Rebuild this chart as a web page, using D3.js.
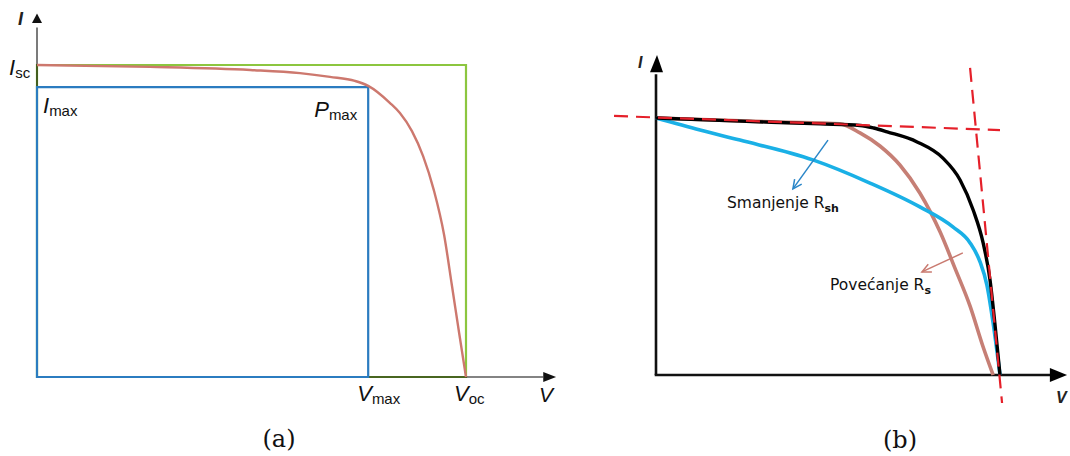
<!DOCTYPE html>
<html><head><meta charset="utf-8">
<script src="https://cdn.jsdelivr.net/npm/d3@7/dist/d3.min.js"></script>
<style>body{margin:0;background:#fff;} svg{display:block;}</style>
</head><body>
<svg id="chart" width="1070" height="456"></svg>
<script>
// ---------- Panel (a) data (normalized V/Voc, I/Isc) ----------
const aVoltage = [0, 0.263, 0.497, 0.613, 0.683, 0.741, 0.772, 0.823, 0.846, 0.874, 0.900, 0.925, 0.949, 0.967, 0.984, 1];
const aCurrent = [1, 0.994, 0.984, 0.974, 0.962, 0.949, 0.933, 0.878, 0.846, 0.788, 0.708, 0.599, 0.455, 0.295, 0.141, 0];
const aVmax = 0.772, aImax = 0.929, aVoc = 1, aIsc = 1;
const aXLabels = [{main: "V", sub: "max", value: aVmax}, {main: "V", sub: "oc", value: aVoc}];
const aYLabels = [{main: "I", sub: "sc", value: aIsc}];
const aCaption = "(a)";

// ---------- Panel (b) data ----------
const bBlackV = [0, 0.244, 0.477, 0.593, 0.633, 0.672, 0.759, 0.834, 0.884, 0.922, 0.951, 0.971, 0.985, 1];
const bBlackI = [1, 0.988, 0.977, 0.971, 0.961, 0.946, 0.907, 0.844, 0.759, 0.642, 0.514, 0.370, 0.202, 0];
const bBlueV  = [0, 0.128, 0.244, 0.456, 0.622, 0.767, 0.863, 0.913, 0.942, 0.962, 0.980, 1];
const bBlueI  = [1, 0.953, 0.914, 0.837, 0.747, 0.654, 0.576, 0.514, 0.440, 0.350, 0.202, 0];
const bBrownV = [0, 0.360, 0.535, 0.593, 0.651, 0.709, 0.767, 0.826, 0.869, 0.913, 0.951, 0.980];
const bBrownI = [1, 0.984, 0.977, 0.942, 0.891, 0.817, 0.708, 0.556, 0.416, 0.268, 0.109, 0];
const bTangentH = [[-0.122, 1.008], [1.0, 0.953]];
const bTangentV = [[0.913, 1.195], [1.006, -0.109]];
const bArrowSh = [[0.500, 0.914], [0.398, 0.724]];
const bArrowS  = [[0.892, 0.475], [0.773, 0.401]];
const bLabels = [{main: "Smanjenje R", sub: "sh"}, {main: "Povećanje R", sub: "s"}];
const bCaption = "(b)";

const svg = d3.select("#chart");
svg.append("rect").attr("width", 1070).attr("height", 456).attr("fill", "#fff");

// ================= Panel (a) =================
const ax = d3.scaleLinear().domain([0, 1]).range([37, 466]);
const ay = d3.scaleLinear().domain([0, 1]).range([377, 65]);
const ga = svg.append("g");

ga.append("path")
  .attr("d", `M${ax(0)},${ay(aIsc)}H${ax(aVoc)}V${ay(0)}H${ax(0)}Z`)
  .attr("fill", "none").attr("stroke", "#8cc63f").attr("stroke-width", 2.2);

ga.append("line").attr("x1", ax(0)).attr("y1", ay(0)).attr("x2", ax(0)).attr("y2", ay(1.12))
  .attr("stroke", "#000").attr("stroke-opacity", 0.65).attr("stroke-width", 1.6);
ga.append("line").attr("x1", ax(0)).attr("y1", ay(0)).attr("x2", ax(1.18)).attr("y2", ay(0))
  .attr("stroke", "#000").attr("stroke-opacity", 0.65).attr("stroke-width", 1.6);
ga.append("path")
  .attr("d", `M${ax(0)},${ay(1.165)}L${ax(0)-5},${ay(1.135)}L${ax(0)+5},${ay(1.135)}Z`)
  .attr("fill", "#111");
ga.append("path")
  .attr("d", `M${ax(1.21)},${ay(0)}L${ax(1.18)},${ay(0)-5}L${ax(1.18)},${ay(0)+5}Z`)
  .attr("fill", "#111");

ga.append("path")
  .attr("d", `M${ax(0)},${ay(0)}V${ay(aImax)}H${ax(aVmax)}V${ay(0)}Z`)
  .attr("fill", "none").attr("stroke", "#2b7cc0").attr("stroke-width", 2.2);

const aLine = d3.line().x(d => ax(d[0])).y(d => ay(d[1])).curve(d3.curveMonotoneX);
ga.append("path").datum(d3.zip(aVoltage, aCurrent)).attr("d", aLine)
  .attr("fill", "none").attr("stroke", "#cd786e").attr("stroke-width", 2.4);

function subLabel(g, x, y, main, sub, size, subSize, italicMain, fam, weight) {
  const t = g.append("text").attr("x", x).attr("y", y)
    .attr("font-family", fam).attr("font-size", size).attr("fill", "#111")
    .attr("font-weight", weight || "normal");
  t.append("tspan").attr("font-style", italicMain ? "italic" : "normal").text(main);
  t.append("tspan").attr("font-size", subSize).attr("dy", size * 0.12).text(sub);
  return t;
}
const sansA = "Liberation Sans, Arial, sans-serif";
aYLabels.forEach(d => subLabel(ga, 9, ay(d.value) + 10, d.main, d.sub, 22, 15, true, sansA));
subLabel(ga, 43, ay(aImax) + 26, "I", "max", 22, 15, true, sansA);
subLabel(ga, ax(aVmax) - 54, ay(aImax) + 30, "P", "max", 22, 15, true, sansA);
aXLabels.forEach(d => subLabel(ga, ax(d.value) - (d.sub === "max" ? 11 : 12), ay(0) + 24, d.main, d.sub, 22, 15, true, sansA));
ga.append("text").attr("x", ax(1.17)).attr("y", ay(0) + 25).attr("font-family", sansA)
  .attr("font-style", "italic").attr("font-size", 21).attr("fill", "#111").text("V");
ga.append("text").attr("x", 18).attr("y", 25).attr("font-family", sansA)
  .attr("font-style", "italic").attr("font-weight", "bold").attr("font-size", 18).attr("fill", "#222").text("I");
ga.append("text").attr("x", 279).attr("y", 447).attr("text-anchor", "middle")
  .attr("font-family", "DejaVu Serif, serif").attr("font-size", 24).attr("fill", "#111").text(aCaption);

// ================= Panel (b) =================
const bx = d3.scaleLinear().domain([0, 1]).range([656, 1000]);
const by = d3.scaleLinear().domain([0, 1]).range([375, 118]);
const gb = svg.append("g");

gb.append("line").attr("x1", bx(0)).attr("y1", by(0)).attr("x2", bx(0)).attr("y2", by(1.17))
  .attr("stroke", "#111").attr("stroke-width", 2.6);
gb.append("line").attr("x1", bx(0) - 1.3).attr("y1", by(0)).attr("x2", bx(1.15)).attr("y2", by(0))
  .attr("stroke", "#111").attr("stroke-width", 2.6);
gb.append("path")
  .attr("d", `M${bx(0)+1},${by(1.245)}L${bx(0)-6},${by(1.178)}L${bx(0)+7},${by(1.178)}Z`)
  .attr("fill", "#000");
gb.append("path")
  .attr("d", `M${bx(1.195)},${by(0)}L${bx(1.145)},${by(0)-7}L${bx(1.145)},${by(0)+7}Z`)
  .attr("fill", "#000");

const bLine = d3.line().x(d => bx(d[0])).y(d => by(d[1])).curve(d3.curveMonotoneX);
gb.append("path").datum(d3.zip(bBrownV, bBrownI)).attr("d", bLine)
  .attr("fill", "none").attr("stroke", "#c67f75").attr("stroke-width", 3.6);
gb.append("path").datum(d3.zip(bBlueV, bBlueI)).attr("d", bLine)
  .attr("fill", "none").attr("stroke", "#1ab0e6").attr("stroke-width", 3.6);
gb.append("path").datum(d3.zip(bBlackV, bBlackI)).attr("d", bLine)
  .attr("fill", "none").attr("stroke", "#000").attr("stroke-width", 3.4);

[bTangentH, bTangentV].forEach(seg => {
  gb.append("path").datum(seg).attr("d", d3.line().x(d => bx(d[0])).y(d => by(d[1])))
    .attr("fill", "none").attr("stroke", "#e5202a").attr("stroke-width", 2.2)
    .attr("stroke-dasharray", "14,8");
});

function arrow(g, seg, color) {
  const [x1, y1] = [bx(seg[0][0]), by(seg[0][1])];
  const [x2, y2] = [bx(seg[1][0]), by(seg[1][1])];
  const ang = Math.atan2(y2 - y1, x2 - x1);
  const L = 10, spread = 0.45;
  g.append("line").attr("x1", x1).attr("y1", y1).attr("x2", x2).attr("y2", y2)
    .attr("stroke", color).attr("stroke-width", 1.5);
  const p1 = [x2 - L * Math.cos(ang - spread), y2 - L * Math.sin(ang - spread)];
  const p2 = [x2 - L * Math.cos(ang + spread), y2 - L * Math.sin(ang + spread)];
  g.append("path").attr("d", `M${p1}L${x2},${y2}L${p2}`)
    .attr("fill", "none").attr("stroke", color).attr("stroke-width", 1.5);
}
arrow(gb, bArrowSh, "#2a86c8");
arrow(gb, bArrowS, "#c97a70");

const sansB = "DejaVu Sans, Verdana, sans-serif";
function bLabel(x, y, d) {
  const t = gb.append("text").attr("x", x).attr("y", y).attr("font-family", sansB)
    .attr("font-size", 15.5).attr("fill", "#111");
  t.append("tspan").text(d.main);
  t.append("tspan").attr("font-size", 11).attr("font-weight", "bold").attr("dy", 4).text(d.sub);
}
bLabel(727, 208, bLabels[0]);
bLabel(830, 290, bLabels[1]);

gb.append("text").attr("x", 638).attr("y", 68).attr("font-family", sansA)
  .attr("font-style", "italic").attr("font-weight", "bold").attr("font-size", 16).attr("fill", "#222").text("I");
gb.append("text").attr("x", 1056).attr("y", 403).attr("font-family", sansA)
  .attr("font-style", "italic").attr("font-weight", "bold").attr("font-size", 16).attr("fill", "#222").text("V");
gb.append("text").attr("x", 900).attr("y", 448).attr("text-anchor", "middle")
  .attr("font-family", "DejaVu Serif, serif").attr("font-size", 24).attr("fill", "#111").text(bCaption);
</script>
</body></html>
